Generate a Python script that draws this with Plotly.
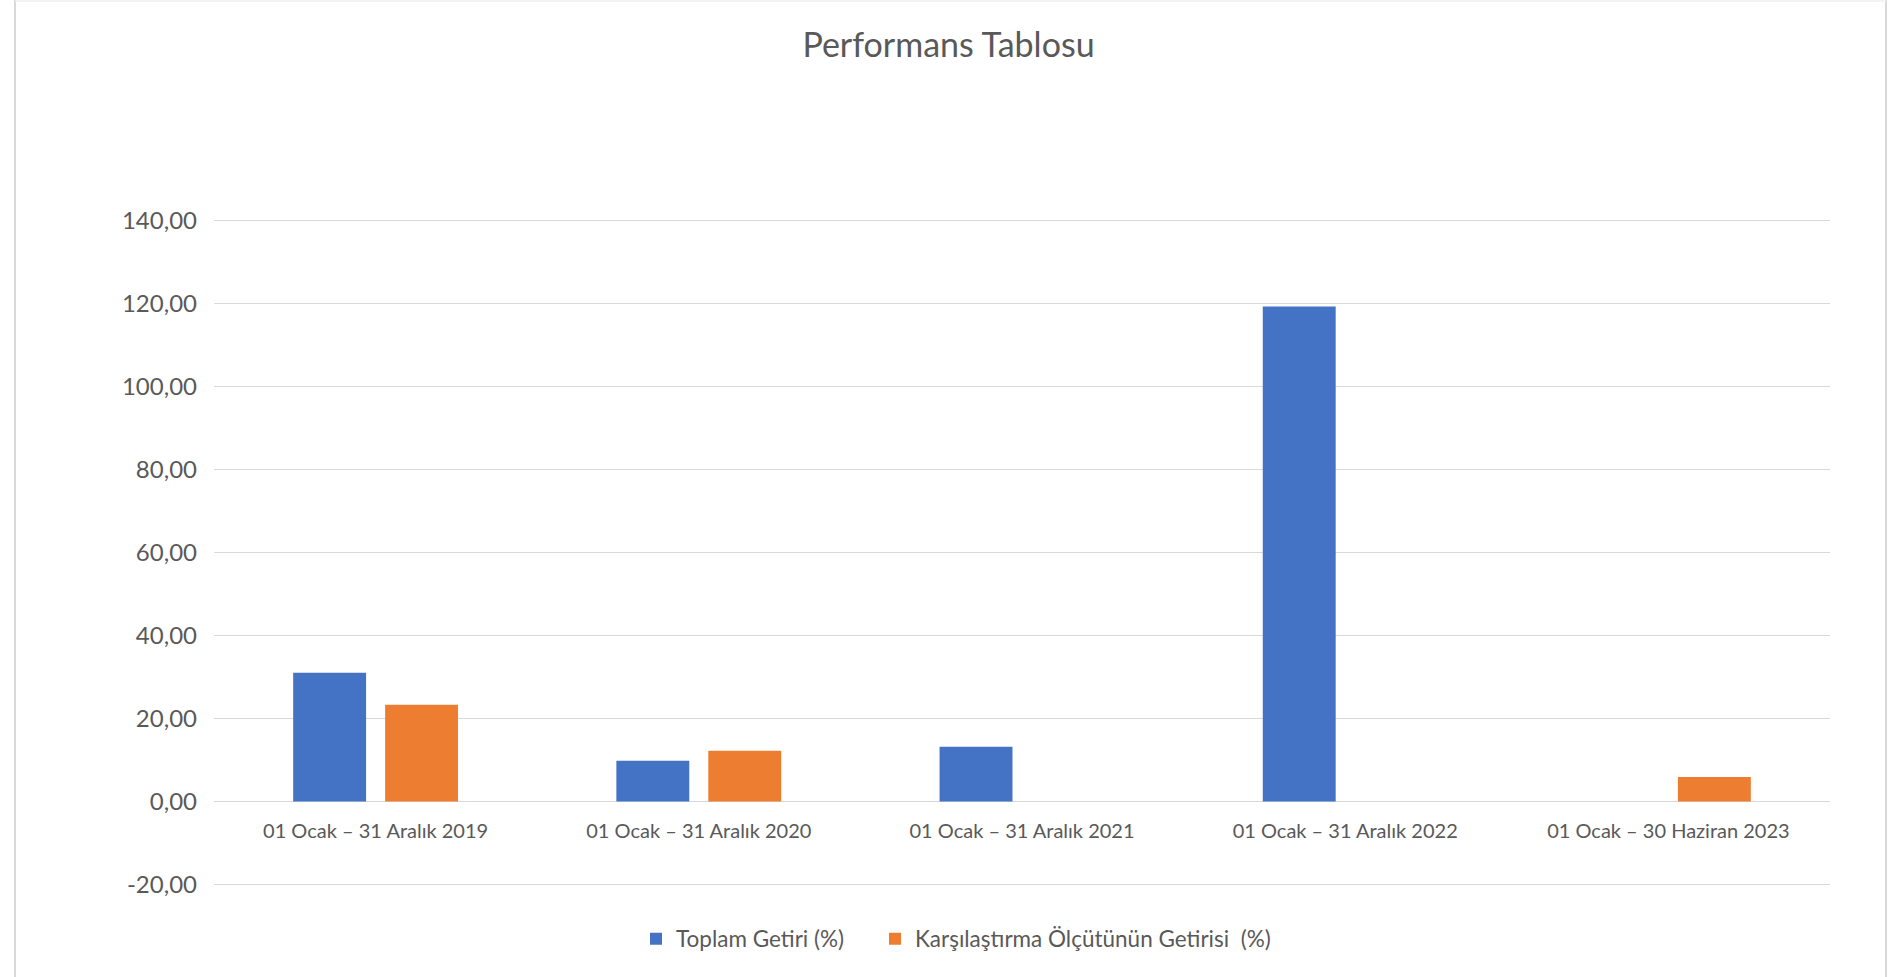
import plotly.graph_objects as go

categories = [
    "01 Ocak – 31 Aralık 2019",
    "01 Ocak – 31 Aralık 2020",
    "01 Ocak – 31 Aralık 2021",
    "01 Ocak – 31 Aralık 2022",
    "01 Ocak – 30 Haziran 2023",
]
toplam_getiri = [31.0, 9.8, 13.2, 119.3, None]
karsilastirma = [23.3, 12.2, None, None, 5.9]

series_names = ["Toplam Getiri (%)", "Karşılaştırma Ölçütünün Getirisi\u00a0\u00a0(%)"]
y_ticks = [-20, 0, 20, 40, 60, 80, 100, 120, 140]
y_tick_text = [f"{v:.2f}".replace(".", ",") for v in y_ticks]

FONT = "Lato"
TXT = "#595959"
GRID = "#D9D9D9"

W, H = 1897, 977
ML, MR, MT, MB = 214, 67, 219, 91
PW, PH = W - ML - MR, H - MT - MB

fig = go.Figure()
fig.add_trace(go.Bar(x=categories, y=toplam_getiri, name=series_names[0],
                     marker=dict(color="#4472C4", line=dict(width=0)),
                     legend="legend"))
fig.add_trace(go.Bar(x=categories, y=karsilastirma, name=series_names[1],
                     marker=dict(color="#ED7D31", line=dict(width=0)),
                     legend="legend2"))

pad = 0.4
ymin, ymax = y_ticks[0] - pad, y_ticks[-1] + pad
zero_pos = (0 - ymin) / (ymax - ymin)

def px_x(p):
    return (p - ML) / PW

def px_y(p):
    return (H - MB - p) / PH

legend_common = dict(orientation="h", xref="container", yref="container",
                     xanchor="left", y=1 - 939 / H, yanchor="middle",
                     font=dict(family=FONT, size=22.5, color=TXT),
                     itemwidth=30, bgcolor="rgba(0,0,0,0)")

fig.update_layout(
    width=W, height=H,
    margin=dict(l=ML, r=MR, t=MT, b=MB, pad=0, autoexpand=False),
    paper_bgcolor="white", plot_bgcolor="white",
    barmode="group", bargap=0.431, bargroupgap=0.207,
    font=dict(family=FONT, color=TXT, size=20),
    title=dict(text="Performans Tablosu", x=0.5, xanchor="center",
               y=1 - 45 / H, yanchor="middle",
               font=dict(family=FONT, size=34, color=TXT)),
    xaxis=dict(showgrid=False, showline=False, ticks="",
               tickfont=dict(family=FONT, size=20, color=TXT),
               anchor="free", position=zero_pos, ticklabelstandoff=16),
    yaxis=dict(range=[ymin, ymax], tickvals=y_ticks, ticktext=y_tick_text,
               showgrid=True, gridcolor=GRID, gridwidth=1.3,
               zeroline=True, zerolinecolor=GRID, zerolinewidth=1.3,
               showline=False, ticks="", ticklabelstandoff=16,
               tickfont=dict(family=FONT, size=24, color=TXT)),
    legend=dict(legend_common, x=(650 - 14) / W),
    legend2=dict(legend_common, x=(889 - 14) / W),
    shapes=[
        dict(type="line", xref="paper", yref="paper",
             x0=px_x(15), x1=px_x(15), y0=px_y(0), y1=px_y(990),
             line=dict(color=GRID, width=2)),
        dict(type="line", xref="paper", yref="paper",
             x0=px_x(1886), x1=px_x(1886), y0=px_y(0), y1=px_y(990),
             line=dict(color=GRID, width=2)),
        dict(type="line", xref="paper", yref="paper",
             x0=px_x(15), x1=px_x(1886), y0=px_y(1), y1=px_y(1),
             line=dict(color="#EFEFEF", width=1.5)),
    ],
    showlegend=True,
)

fig.write_html("out.html", config={"displayModeBar": False},
               post_script="document.body.style.margin='0';")
